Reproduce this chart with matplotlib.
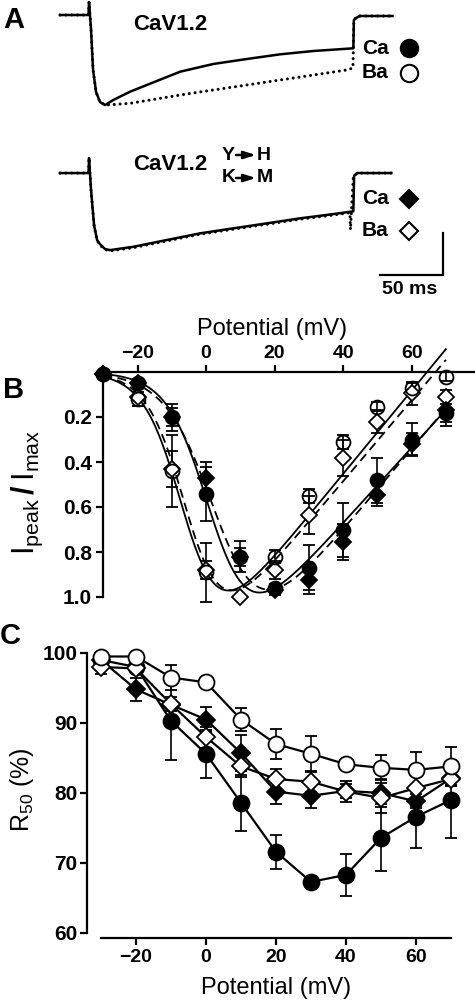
import numpy as np
import matplotlib
matplotlib.use('Agg')
from matplotlib import pyplot as plt

plt.rcParams['font.family'] = ['Liberation Sans', 'DejaVu Sans']
plt.rcParams['mathtext.fontset'] = 'custom'
plt.rcParams['mathtext.rm'] = 'Liberation Sans'
plt.rcParams['mathtext.bf'] = 'Liberation Sans:bold'

W, H = 475, 1002

# ---------------- panel A : current traces (ms, normalised current) ----------------
t_wt_ca = [-23, -0.4, 0, 1.6, 3.2, 5.6, 8.7, 12.7, 19.3, 32.6, 45.8, 72.3, 98.7,
           125.2, 151.7, 178.1, 209.9, 210.3, 212.5, 215, 241]
i_wt_ca = [0, 0, 0.144, -0.167, -0.61, -0.856, -0.967, -1.0, -0.944, -0.852, -0.778,
           -0.63, -0.544, -0.489, -0.437, -0.40, -0.37, -0.056, -0.03, -0.011, -0.011]

t_wt_ba = [-23, -0.4, 0, 1.6, 3.2, 5.6, 8.7, 12.7, 19.3, 32.6, 72.3, 98.7, 125.2,
           151.7, 178.1, 204.6, 209.6, 210.3, 213, 241]
i_wt_ba = [0, 0, 0.144, -0.167, -0.61, -0.856, -0.967, -1.0, -0.995, -0.981, -0.889,
           -0.833, -0.778, -0.722, -0.667, -0.611, -0.589, -0.056, -0.011, -0.011]

t_mut_ca = [-23, -0.4, 0, 1.6, 4.0, 6.4, 8.7, 12.7, 16.7, 35.2, 61.7, 88.1, 114.6,
            141.1, 167.5, 194, 207.2, 209.9, 210.5, 213, 240]
i_mut_ca = [0, 0, 0.167, -0.19, -0.58, -0.744, -0.79, -0.844, -0.856, -0.819, -0.744,
            -0.67, -0.614, -0.559, -0.503, -0.456, -0.43, -0.425, -0.03, 0, 0]

t_mut_ba = [-23, -0.4, 0, 1.6, 4.0, 6.4, 8.7, 12.7, 16.7, 35.2, 61.7, 88.1, 114.6,
            141.1, 167.5, 194, 207.2, 207.6, 209.9, 213, 240]
i_mut_ba = [0, 0, 0.167, -0.19, -0.58, -0.75, -0.80, -0.85, -0.866, -0.829, -0.754,
            -0.68, -0.624, -0.569, -0.513, -0.466, -0.44, -0.63, -0.04, 0, 0]

# ---------------- panel B : normalised I-V ----------------
v_b = np.array([-30, -20, -10, 0, 10, 20, 30, 40, 50, 60, 70])
ca_wt_b = [0.01, 0.05, 0.20, 0.54, 0.82, 0.96, 0.87, 0.70, 0.48, 0.30, 0.18]
ca_wt_b_err = [0, 0.02, 0.06, 0.12, 0.07, 0.02, 0.10, 0.12, 0.10, 0.075, 0.06]
ba_wt_b = [0.01, 0.12, 0.44, 0.89, np.nan, 0.82, 0.55, 0.31, 0.155, 0.07, 0.02]
ba_wt_b_err = [0, 0.03, 0.16, 0.13, 0, 0.03, 0.03, 0.03, 0.02, 0.02, 0.02]
ca_mut_b = [0.01, 0.05, 0.20, 0.47, 0.82, 0.97, 0.925, 0.755, 0.545, 0.32, 0.17]
ca_mut_b_err = [0, 0.02, 0.04, 0.07, 0.04, 0.02, 0.06, 0.08, 0.05, 0.05, 0.05]
ba_mut_b = [0.01, 0.11, 0.43, 0.88, 1.00, 0.88, 0.635, 0.38, 0.22, 0.095, 0.11]
ba_mut_b_err = [0, 0.04, 0.08, 0.04, 0, 0.04, 0.085, 0.08, 0.05, 0.05, 0.03]

# Boltzmann-Ohm fit parameters: g, Erev, V1/2, k
fit_ca_wt = (0.0168, 80.0, 2.0, 6.0)
fit_ba_wt = (0.0185, 64.5, -5.9, 5.5)
fit_ca_mut = (0.0180, 79.0, 4.0, 7.0)
fit_ba_mut = (0.0180, 67.0, -5.0, 5.5)

# ---------------- panel C : R50 ----------------
v_c = np.array([-30, -20, -10, 0, 10, 20, 30, 40, 50, 60, 70])
ba_wt_c = [99.5, 99.5, 96.5, 95.8, 90.5, 87.0, 85.6, 84.1, 83.6, 83.3, 83.8]
ba_wt_c_err = [0, 0, 1.8, 0, 1.7, 2.1, 2.6, 0.4, 1.8, 2.5, 2.8]
ca_wt_c = [99.0, 98.0, 90.3, 85.6, 78.6, 71.6, 67.3, 68.3, 73.6, 76.6, 79.0]
ca_wt_c_err = [0, 0, 5.6, 3.4, 4.0, 2.4, 0.7, 3.0, 4.8, 4.4, 5.4]
ca_mut_c = [99.0, 94.8, 92.6, 90.5, 85.7, 80.2, 79.6, 80.3, 80.0, 78.8, 82.1]
ca_mut_c_err = [0.5, 1.6, 0.5, 1.8, 2.6, 1.8, 1.7, 1.0, 2.0, 1.0, 1.0]
ba_mut_c = [98.0, 97.8, 92.7, 88.0, 83.8, 82.0, 81.6, 80.2, 79.3, 80.7, 82.0]
ba_mut_c_err = [1.0, 0.5, 1.0, 1.5, 1.5, 1.5, 1.5, 1.5, 2.2, 2.5, 1.0]


def iv_fit(v, g, erev, vh, k):
    return g * (erev - v) / (1.0 + np.exp((vh - v) / k))


fig = plt.figure(figsize=(W / 100, H / 100), dpi=100)


def px_axes(left, top, right, bottom):
    return fig.add_axes([left / W, 1 - bottom / H, (right - left) / W, (bottom - top) / H])


def ftext(x, y, s, **kw):
    return fig.text(x / W, 1 - y / H, s, **kw)


def farrow(x0, x1, y):
    # heavy mutation arrow ("Y -> H") drawn in pixel positions of the figure
    fig.add_artist(matplotlib.patches.FancyArrowPatch(
        (x0 / W, 1 - y / H), (x1 / W, 1 - y / H), transform=fig.transFigure,
        arrowstyle='-|>,head_length=0.7,head_width=0.22', mutation_scale=10,
        lw=1.8, color='black', shrinkA=0, shrinkB=0))


# ---- A ----
ax_a = px_axes(0, 0, 475, 300.6)
ax_a.set_xlim(-70.7, 306.5)
ax_a.set_ylim(-3.173, 0.1667)
ax_a.axis('off')
OFFSET2 = -1.756
dotted = dict(color='black', lw=2.2, ls=(0, (0.01, 1.9)), dash_capstyle='round')
ax_a.plot(t_wt_ca, i_wt_ca, color='black', lw=1.8)
ax_a.plot(t_wt_ba, i_wt_ba, **dotted)
ax_a.plot(t_mut_ca, np.array(i_mut_ca) + OFFSET2, color='black', lw=1.8)
ax_a.plot(t_mut_ba, np.array(i_mut_ba) + OFFSET2, **dotted)
# scale bar 50 ms
ax_a.plot([231, 281, 281], [-2.889, -2.889, -2.422], color='black', lw=1.6,
          solid_joinstyle='miter')

ftext(3, 20, 'A', fontsize=21, fontweight='bold', va='center')
ftext(133, 25, 'CaV1.2', fontsize=16, fontweight='bold', va='center')
ftext(133, 165, 'CaV1.2', fontsize=16, fontweight='bold', va='center')
ftext(222, 155, 'Y', fontsize=14, fontweight='bold', va='center')
ftext(257, 155, 'H', fontsize=14, fontweight='bold', va='center')
ftext(222, 178, 'K', fontsize=14, fontweight='bold', va='center')
ftext(257, 178, 'M', fontsize=14, fontweight='bold', va='center')
farrow(236, 256, 155)
farrow(236, 256, 178)
ftext(362, 48, 'Ca', fontsize=15, fontweight='bold', va='center')
ftext(362, 73, 'Ba', fontsize=15, fontweight='bold', va='center')
ftext(362, 199, 'Ca', fontsize=15, fontweight='bold', va='center')
ftext(362, 231, 'Ba', fontsize=15, fontweight='bold', va='center')
ftext(410, 289, '50 ms', fontsize=14, fontweight='bold', va='center', ha='center')

leg = dict(transform=fig.transFigure, clip_on=False, color='black', mew=1.5)
ax_a.plot(409 / W, 1 - 48 / H, 'o', ms=12.5, mfc='black', **leg)
ax_a.plot(409 / W, 1 - 73 / H, 'o', ms=12.5, mfc='white', **leg)
ax_a.plot(409 / W, 1 - 199 / H, 'D', ms=9, mfc='black', **leg)
ax_a.plot(409 / W, 1 - 231 / H, 'D', ms=9, mfc='white', **leg)

# ---- B ----
ax_b = px_axes(96.5, 372, 475, 597)
ax_b.set_xlim(-31.97, 78.5)
ax_b.set_ylim(1.0, 0.0)
for s in ['bottom', 'right']:
    ax_b.spines[s].set_visible(False)
ax_b.spines['left'].set_position(('data', -30))
for s in ['top', 'left']:
    ax_b.spines[s].set_linewidth(1.6)
ax_b.xaxis.tick_top()
ax_b.set_xticks([-20, 0, 20, 40, 60])
ax_b.set_yticks([0.2, 0.4, 0.6, 0.8, 1.0])
ax_b.set_yticklabels(['0.2', '0.4', '0.6', '0.8', '1.0'])
ax_b.tick_params(direction='out', length=5, width=1.6, labelsize=14, pad=2)
ax_b.tick_params(axis='y', labelsize=15, pad=3)

v_fit = np.linspace(-30, 70, 301)
ax_b.plot(v_fit, iv_fit(v_fit, *fit_ca_wt), color='black', lw=1.3, clip_on=False)
ax_b.plot(v_fit, iv_fit(v_fit, *fit_ba_wt), color='black', lw=1.3, clip_on=False)
ax_b.plot(v_fit, iv_fit(v_fit, *fit_ca_mut), color='black', lw=1.3, ls=(0, (5, 3)),
          clip_on=False)
ax_b.plot(v_fit, iv_fit(v_fit, *fit_ba_mut), color='black', lw=1.3, ls=(0, (5, 3)),
          clip_on=False)

eb = dict(color='black', mec='black', ecolor='black', elinewidth=1.2, capsize=4,
          capthick=1.2, mew=1.3, clip_on=False, zorder=3)


def unclip(cont):
    for art in cont.get_children():
        art.set_clip_on(False)


unclip(ax_b.errorbar(v_b, ba_mut_b, yerr=ba_mut_b_err, fmt='D', ms=8, mfc='white', **eb))
unclip(ax_b.errorbar(v_b, ba_wt_b, yerr=ba_wt_b_err, fmt='o', ms=10, mfc='none', **eb))
unclip(ax_b.errorbar(v_b, ca_wt_b, yerr=ca_wt_b_err, fmt='o', ms=10, mfc='black', **eb))
unclip(ax_b.errorbar(v_b, ca_mut_b, yerr=ca_mut_b_err, fmt='D', ms=8, mfc='black', **eb))

ftext(3, 390, 'B', fontsize=21, fontweight='bold', va='center')
ftext(272, 329, 'Potential (mV)', fontsize=17, ha='center', va='center')
ftext(27, 492, r'$\mathrm{I_{peak}}\,\mathbf{/}\,\mathrm{I_{max}}$', fontsize=22,
      rotation=90, ha='center', va='center')

# ---- C ----
ax_c = px_axes(101, 653, 451, 933)
ax_c.set_xlim(-30, 70)
ax_c.set_ylim(60, 100)
for s in ['top', 'right']:
    ax_c.spines[s].set_visible(False)
ax_c.spines['left'].set_position(('outward', 10))
ax_c.spines['bottom'].set_position(('outward', 3.6))
for s in ['bottom', 'left']:
    ax_c.spines[s].set_linewidth(1.6)
ax_c.set_xticks([-20, 0, 20, 40, 60])
ax_c.set_yticks([60, 70, 80, 90, 100])
ax_c.tick_params(direction='out', length=5, width=1.6, labelsize=14, pad=3)
ax_c.tick_params(axis='y', labelsize=15, pad=2)

ec = dict(eb, lw=1.6)
unclip(ax_c.errorbar(v_c, ca_wt_c, yerr=ca_wt_c_err, fmt='-o', ms=11.5, mfc='black', **ec))
unclip(ax_c.errorbar(v_c, ca_mut_c, yerr=ca_mut_c_err, fmt='-D', ms=9, mfc='black', **ec))
unclip(ax_c.errorbar(v_c, ba_mut_c, yerr=ba_mut_c_err, fmt='-D', ms=9, mfc='white', **ec))
unclip(ax_c.errorbar(v_c, ba_wt_c, yerr=ba_wt_c_err, fmt='-o', ms=11.5, mfc='white', **ec))

ftext(0, 636, 'C', fontsize=21, fontweight='bold', va='center')
ftext(276, 988, 'Potential (mV)', fontsize=17, ha='center', va='center')
ftext(22, 790, r'R$_{\mathrm{50}}$ (%)', fontsize=18, rotation=90, ha='center', va='center')

for ax in (ax_b, ax_c):
    for lab in ax.get_xticklabels() + ax.get_yticklabels():
        lab.set_fontweight('bold')

fig.savefig('out.png', dpi=100)
